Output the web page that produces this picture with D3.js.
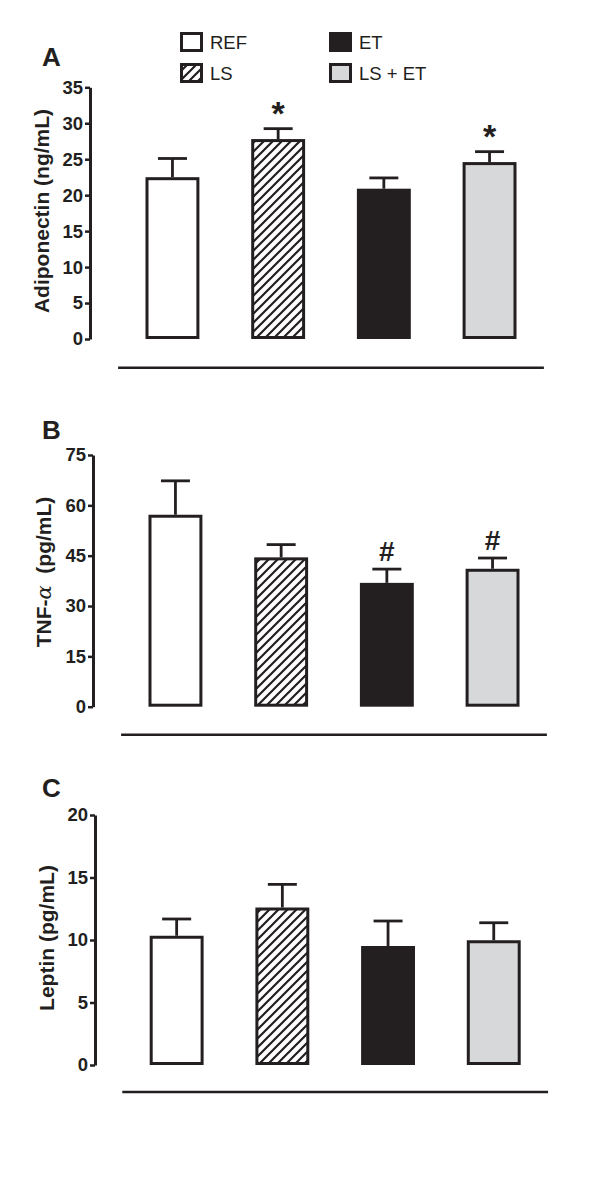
<!DOCTYPE html>
<html>
<head>
<meta charset="utf-8">
<script src="https://cdn.jsdelivr.net/npm/d3@7"></script>
<style>
  html, body { margin: 0; padding: 0; background: #fff; }
  svg { display: block; }
  text { font-family: Arial, "Liberation Sans", sans-serif; fill: #231f20; }
</style>
</head>
<body>
<svg id="chart" width="600" height="1187"></svg>
<script>
// ---- data ----
const groups = ["REF", "LS", "ET", "LS + ET"];

const adiponectinMean = [22.5, 27.8, 20.9, 24.6];
const adiponectinSem  = [2.6, 1.45, 1.5, 1.45];
const adiponectinMarks = ["", "*", "", "*"];
const adiponectinTicks = [0, 5, 10, 15, 20, 25, 30, 35];

const tnfMean = [57.2, 44.5, 36.9, 41.1];
const tnfSem  = [10.1, 3.8, 4.1, 3.2];
const tnfMarks = ["", "", "#", "#"];
const tnfTicks = [0, 15, 30, 45, 60, 75];

const leptinMean = [10.34, 12.6, 9.52, 9.98];
const leptinSem  = [1.34, 1.85, 2.0, 1.4];
const leptinMarks = ["", "", "", ""];
const leptinTicks = [0, 5, 10, 15, 20];

const panelLetters = ["A", "B", "C"];

// ---- styles ----
const INK = "#231f20";
const GRAY = "#d7d8da";
const fills = ["#ffffff", "url(#hatch)", INK, GRAY];

const svg = d3.select("#chart");
const defs = svg.append("defs");
const pat = defs.append("pattern")
  .attr("id", "hatch")
  .attr("patternUnits", "userSpaceOnUse")
  .attr("width", 9).attr("height", 9);
pat.append("rect").attr("width", 9).attr("height", 9).attr("fill", "#fff");
pat.append("path")
  .attr("d", "M0,9 L9,0 M-2.25,2.25 L2.25,-2.25 M6.75,11.25 L11.25,6.75")
  .attr("stroke", INK).attr("stroke-width", 2.2);

// ---- legend ----
const legendPos = [
  {x: 180, y: 32},
  {x: 180, y: 63},
  {x: 329, y: 32},
  {x: 329, y: 63}
];
groups.forEach((g, i) => {
  const p = legendPos[i];
  svg.append("rect")
    .attr("x", p.x + 1.5).attr("y", p.y + 1.5)
    .attr("width", 20).attr("height", 17)
    .attr("fill", fills[i]).attr("stroke", INK).attr("stroke-width", 3);
  svg.append("text")
    .attr("x", p.x + 30).attr("y", p.y + 16.5)
    .attr("font-size", 18.5)
    .text(g);
});

// ---- panels ----
const panels = [
  {letter: panelLetters[0], mean: adiponectinMean, sem: adiponectinSem, marks: adiponectinMarks,
   ticks: adiponectinTicks, max: 35, x0: 119.6, axisX: 90, yTop: 87.3, yBot: 339, lineY: 367.7,
   letterY: 66, titleX: 49, titleY: 211, markFont: 34, markOff: 4, title: "Adiponectin (ng/mL)"},
  {letter: panelLetters[1], mean: tnfMean, sem: tnfSem, marks: tnfMarks,
   ticks: tnfTicks, max: 75, x0: 122.6, axisX: 93, yTop: 455, yBot: 706.7, lineY: 734.7,
   letterY: 438.5, titleX: 51, titleY: 572, markFont: 28, markOff: 8, title: "TNF"},
  {letter: panelLetters[2], mean: leptinMean, sem: leptinSem, marks: leptinMarks,
   ticks: leptinTicks, max: 20, x0: 123.8, axisX: 95, yTop: 815, yBot: 1065, lineY: 1092,
   letterY: 797, titleX: 54, titleY: 938, markFont: 28, markOff: 8, title: "Leptin (pg/mL)"}
];

const step = 105.7;
const SW = 3;

panels.forEach(P => {
  const g = svg.append("g");
  const x = d3.scaleBand().domain(groups)
    .range([P.x0, P.x0 + 4 * step])
    .paddingInner(0.49).paddingOuter(0.245);
  const y = d3.scaleLinear().domain([0, P.max]).range([P.yBot, P.yTop]);

  // axis
  const ax = g.append("g")
    .attr("transform", `translate(${P.axisX},0)`)
    .call(d3.axisLeft(y).tickValues(P.ticks).tickSize(5).tickSizeOuter(0).tickPadding(2));
  ax.select(".domain").attr("stroke", INK).attr("stroke-width", 3);
  ax.selectAll(".tick line").attr("stroke", INK).attr("stroke-width", 2.5);
  ax.selectAll(".tick text")
    .attr("font-size", 18.5).attr("font-weight", "bold")
    .attr("font-family", "Arial, 'Liberation Sans', sans-serif")
    .attr("fill", INK);

  // bars
  const data = groups.map((k, i) => ({k, i, m: P.mean[i], s: P.sem[i], mark: P.marks[i]}));
  g.selectAll("rect.bar").data(data).enter().append("rect")
    .attr("class", "bar")
    .attr("x", d => x(d.k) + SW / 2)
    .attr("y", d => y(d.m) + SW / 2)
    .attr("width", x.bandwidth() - SW)
    .attr("height", d => y(0) - y(d.m) - SW)
    .attr("fill", d => fills[d.i])
    .attr("stroke", INK).attr("stroke-width", SW);

  // error bars
  const capW = 29;
  g.selectAll("line.stem").data(data).enter().append("line")
    .attr("x1", d => x(d.k) + x.bandwidth() / 2)
    .attr("x2", d => x(d.k) + x.bandwidth() / 2)
    .attr("y1", d => y(d.m))
    .attr("y2", d => y(d.m + d.s))
    .attr("stroke", INK).attr("stroke-width", 2.8);
  g.selectAll("line.cap").data(data).enter().append("line")
    .attr("x1", d => x(d.k) + x.bandwidth() / 2 - capW / 2)
    .attr("x2", d => x(d.k) + x.bandwidth() / 2 + capW / 2)
    .attr("y1", d => y(d.m + d.s))
    .attr("y2", d => y(d.m + d.s))
    .attr("stroke", INK).attr("stroke-width", 2.8);

  // significance marks
  g.selectAll("text.mark").data(data.filter(d => d.mark)).enter().append("text")
    .attr("x", d => x(d.k) + x.bandwidth() / 2)
    .attr("y", d => y(d.m + d.s) - P.markOff)
    .attr("text-anchor", "middle")
    .attr("font-size", P.markFont).attr("font-weight", "bold")
    .text(d => d.mark);

  // base line under panel
  g.append("line")
    .attr("x1", P.x0 - 1.5).attr("x2", P.x0 + 4 * step + 1.5)
    .attr("y1", P.lineY).attr("y2", P.lineY)
    .attr("stroke", INK).attr("stroke-width", 2.5);

  // panel letter
  g.append("text")
    .attr("x", 42).attr("y", P.letterY)
    .attr("font-size", 26).attr("font-weight", "bold")
    .text(P.letter);

  // y title
  const t = g.append("text")
    .attr("transform", `translate(${P.titleX},${P.titleY}) rotate(-90)`)
    .attr("text-anchor", "middle")
    .attr("font-size", 21).attr("font-weight", "bold");
  if (P.title === "TNF") {
    t.append("tspan").text("TNF-");
    t.append("tspan").attr("font-family", "'DejaVu Serif', serif").attr("font-style", "italic")
      .attr("font-weight", "normal").text("α");
    t.append("tspan").text("\u00a0 (pg/mL)");
  } else {
    t.text(P.title);
  }
});
</script>
</body>
</html>
